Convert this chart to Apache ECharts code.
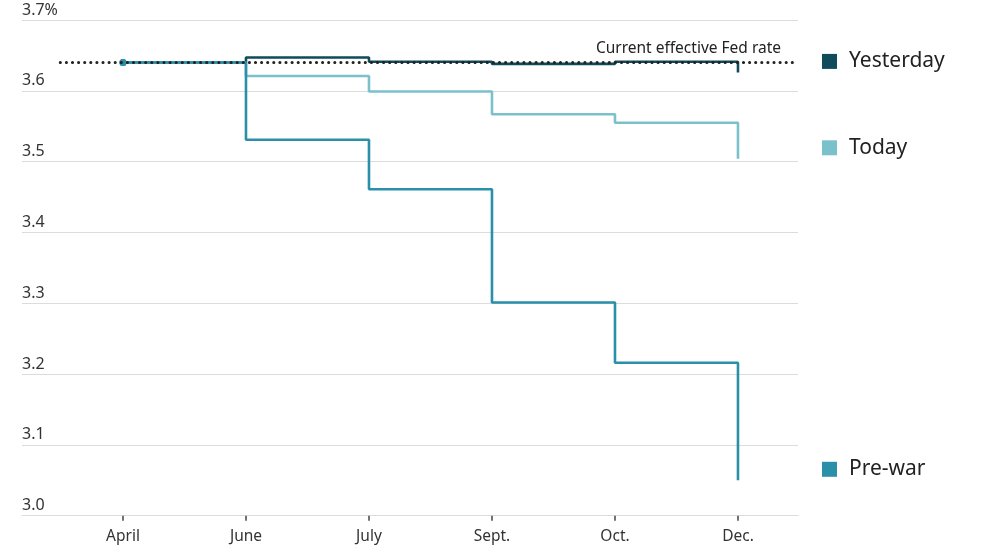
<!DOCTYPE html>
<html>
<head>
<meta charset="utf-8">
<script src="https://cdn.jsdelivr.net/npm/echarts@6/dist/echarts.min.js"></script>
<style>html,body{margin:0;padding:0;background:#fff}#c{width:1000px;height:545px}</style>
</head>
<body>
<div id="c"></div>
<script>
var months = ['April', 'June', 'July', 'Sept.', 'Oct.', 'Dec.'];
var yesterday = [3.640, 3.647, 3.641, 3.638, 3.641, 3.626];
var today = [3.640, 3.621, 3.599, 3.567, 3.555, 3.504];
var preWar = [3.640, 3.531, 3.461, 3.301, 3.216, 3.050];
var fedRate = 3.640;
var yTicks = [3.0, 3.1, 3.2, 3.3, 3.4, 3.5, 3.6, 3.7];

var FONT = 'Noto Sans';
function pairs(arr) { return arr.map(function (v, i) { return [i, v]; }); }
function legendLabel(name, color) {
  return {
    show: true,
    formatter: '{sq|}{t|' + name + '}',
    distance: 0,
    offset: [84, -11],
    rich: {
      sq: { width: 15, height: 15, backgroundColor: color },
      t: { fontFamily: FONT, fontSize: 21, color: '#222', padding: [0, 0, 0, 12] }
    }
  };
}
function lineSeries(name, arr, color, extra) {
  var s = {
    name: name,
    type: 'line',
    step: 'end',
    data: pairs(arr),
    symbol: 'circle',
    symbolSize: function (v, p) { return p.dataIndex === 0 ? 7 : 0; },
    showSymbol: true,
    showAllSymbol: true,
    itemStyle: { color: color },
    lineStyle: { color: color, width: 2.6 },
    endLabel: legendLabel(name, color),
    emphasis: { disabled: true },
    animation: false
  };
  for (var k in extra) s[k] = extra[k];
  return s;
}

var chart = echarts.init(document.getElementById('c'));
chart.setOption({
  animation: false,
  grid: { left: 22, right: 202, top: 20, bottom: 29.3, containLabel: false },
  xAxis: {
    type: 'value',
    min: -0.821,
    max: 5.488,
    splitLine: { show: false },
    axisLine: { show: true, lineStyle: { color: '#dcdcdc', width: 1 } },
    axisTick: { show: true, customValues: [0, 1, 2, 3, 4, 5], length: 5, lineStyle: { color: '#444', width: 1.5 } },
    axisLabel: {
      customValues: [0, 1, 2, 3, 4, 5],
      formatter: function (v) { return months[Math.round(v)]; },
      fontFamily: FONT, fontSize: 15.5, color: '#333', margin: 13
    }
  },
  yAxis: {
    type: 'value',
    min: 3.0,
    max: 3.7,
    interval: 0.1,
    axisLine: { show: false },
    axisTick: { show: false },
    splitLine: { showMinLine: true, showMaxLine: true, lineStyle: { color: '#dcdcdc', width: 1 } },
    axisLabel: {
      inside: true,
      verticalAlign: 'bottom',
      margin: 0,
      padding: [0, 0, 2, 0],
      fontFamily: FONT, fontSize: 16, color: '#333',
      customValues: yTicks,
      formatter: function (v) { return Math.abs(v - 3.7) < 1e-6 ? v.toFixed(1) + '%' : v.toFixed(1); }
    }
  },
  series: [
    lineSeries('Yesterday', yesterday, '#0f4b5a', {
      markLine: {
        silent: true,
        symbol: ['none', 'none'],
        lineStyle: { color: '#222', type: [0.1, 6], width: 3, cap: 'round' },
        label: {
          show: true,
          position: 'insideEndTop',
          formatter: 'Current effective Fed rate',
          fontFamily: FONT, fontSize: 15.5, color: '#222',
          distance: [17, 6]
        },
        data: [[{ coord: [-0.51, fedRate] }, { coord: [5.488, fedRate] }]],
        z: 10
      }
    }),
    lineSeries('Today', today, '#7bc1cb', {}),
    lineSeries('Pre-war', preWar, '#2a8fa8', {})
  ]
});
</script>
</body>
</html>
